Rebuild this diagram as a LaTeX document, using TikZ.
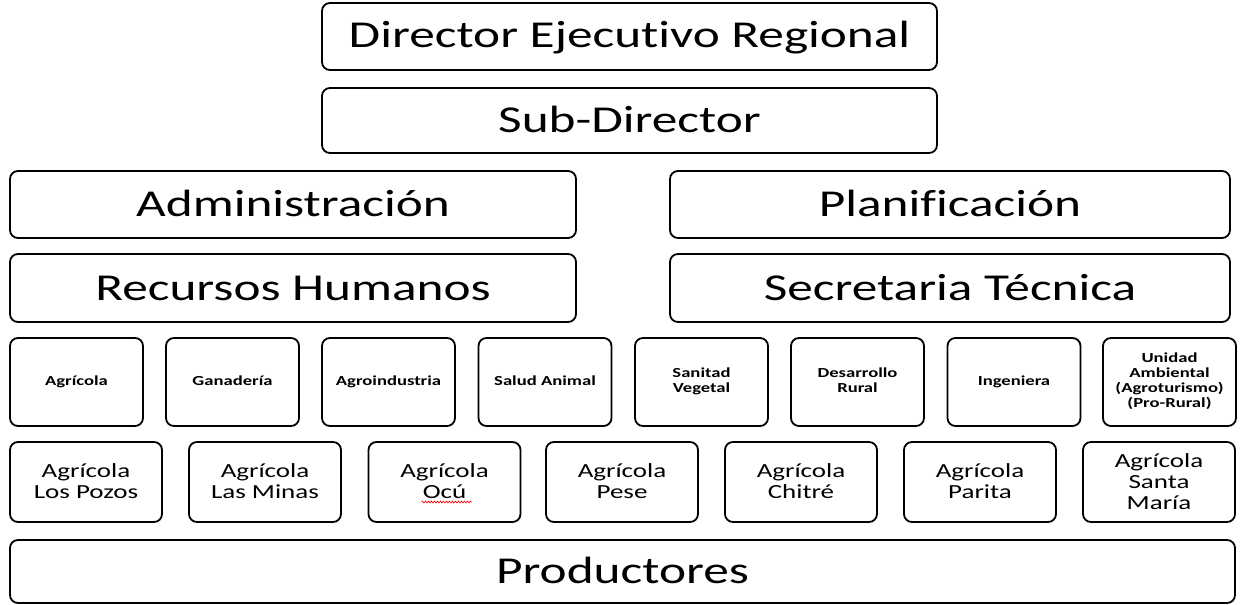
\documentclass[tikz,border=0pt]{standalone}
\usepackage{fontspec}
\setmainfont{Carlito}[FakeStretch=1.35, Ligatures=NoCommon]
\usetikzlibrary{decorations.pathmorphing}
\tikzset{
  box/.style={draw, line width=1.8pt, rounded corners=8pt, inner sep=0pt, align=center, text=black},
  struts/.style 2 args={execute at begin node={\rule{0pt}{#1}}, execute at end node={\rule[-#2]{0pt}{#2}}},
  big/.style={box, font=\fontsize{38}{44}\selectfont, struts={29.5pt}{5.5pt}},
  small/.style={box, font=\fontsize{13.8}{15}\selectfont\bfseries, struts={9pt}{3pt}},
  mid/.style={box, font=\fontsize{20}{21}\selectfont, struts={17pt}{1pt}},
}
\begin{document}
\begin{tikzpicture}[x=1pt,y=-1pt]
\useasboundingbox (0,0) rectangle (1240,605);
\node[big, minimum width=615, minimum height=67] (dir) at (629.5,36.5) {Director Ejecutivo Regional};
\node[big, minimum width=615, minimum height=65] (sub) at (629.5,120.5) {Sub-Director};
\node[big, minimum width=566, minimum height=67] (adm) at (293,204.5) {Administración};
\node[big, minimum width=560, minimum height=67] (pla) at (950,204.5) {Planificación};
\node[big, minimum width=566, minimum height=68] (rh) at (293,288) {Recursos Humanos};
\node[big, minimum width=560, minimum height=68] (st) at (950,288) {Secretaria Técnica};
\foreach \n/\cx/\t in {a1/76.5/Agrícola, a2/232.5/Ganadería, a3/388.5/Agroindustria, a4/545/Salud Animal, a5/701.5/{Sanitad\\Vegetal}, a6/857.5/{Desarrollo\\Rural}, a7/1014/Ingeniera, a8/1169.5/{Unidad\\Ambiental\\(Agroturismo)\\(Pro-Rural)}}
  \node[small, minimum width=133, minimum height=88] (\n) at (\cx,382) {\t};
\foreach \n/\cx/\t in {b1/86/{Agrícola\\Los Pozos}, b2/265/{Agrícola\\Las Minas}, b3/444.5/{Agrícola\\Ocú}, b4/622/{Agrícola\\Pese}, b5/801/{Agrícola\\Chitré}, b6/980/{Agrícola\\Parita}, b7/1159/{Agrícola\\Santa\\María}}
  \node[mid, minimum width=152, minimum height=80] (\n) at (\cx,482) {\t};
\draw[red, line width=0.6pt, decorate, decoration={snake, amplitude=1pt, segment length=3pt}] ([xshift=-23pt,yshift=-20pt]b3.center) -- ([xshift=27pt,yshift=-20pt]b3.center);
\node[big, minimum width=1225, minimum height=63] (prod) at (622.5,571.5) {Productores};
\end{tikzpicture}
\end{document}
